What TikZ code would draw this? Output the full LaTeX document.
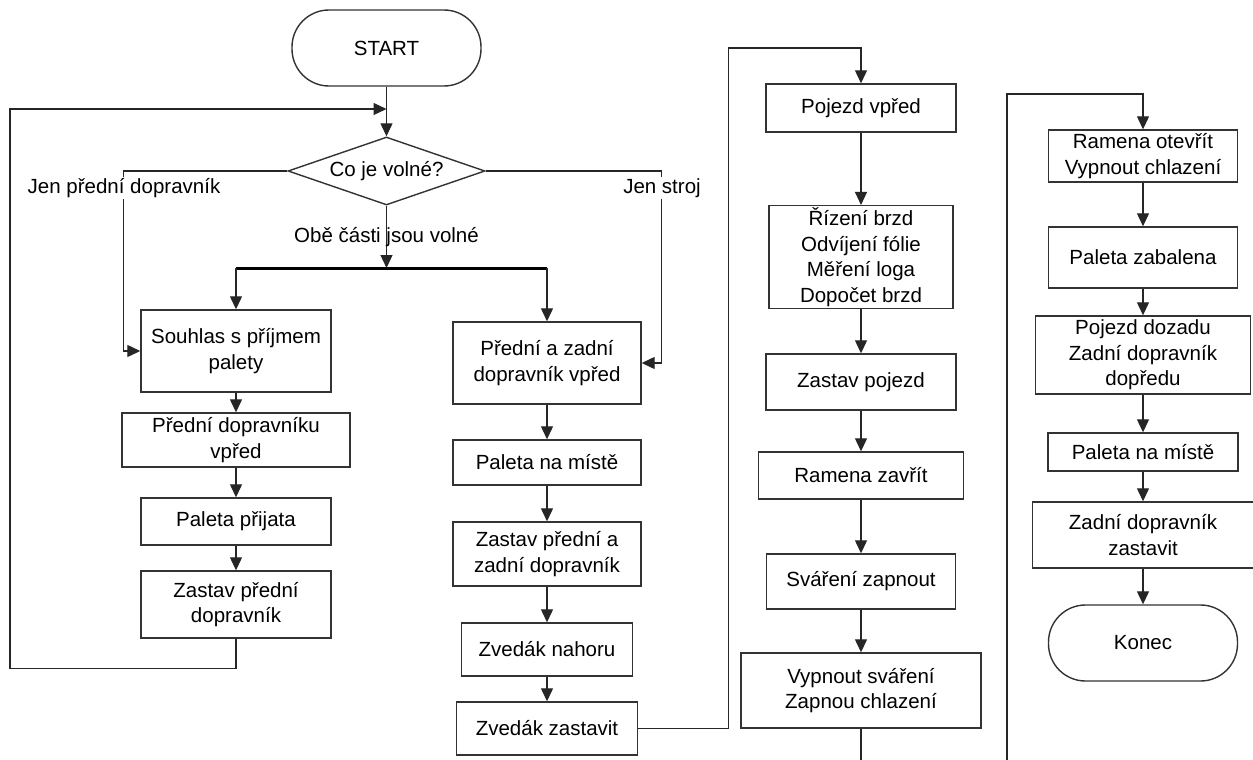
\documentclass[tikz,border=0pt]{standalone}
\usepackage{fontspec}
\setmainfont{Liberation Sans}
\usetikzlibrary{shapes.geometric,arrows.meta}
\begin{document}
\begin{tikzpicture}[x=1pt,y=-1pt,
  txt/.style={font=\fontsize{20.5pt}{25.5pt}\selectfont},
  box/.style={txt,draw=black!80,line width=1.4pt,fill=white,align=center,inner sep=2pt},
  term/.style={box,rounded corners=37pt,minimum width=189pt,minimum height=76pt},
  dec/.style={txt,draw=black!80,line width=1.4pt,fill=white,diamond,aspect=3,inner sep=0pt,minimum width=197pt,minimum height=68pt},
  lbl/.style={txt,fill=white,inner sep=1pt},
  conn/.style={line width=1.2pt,draw=black!85},
  arr/.style={conn,-{Triangle[length=13pt,width=12pt]}},
  bar/.style={line width=3pt,draw=black}]
\useasboundingbox[fill=white] (0,0) rectangle (1253,760);

% column 0 : start + decision
\node[term] (start) at (386.5,48) {START};
\node[dec] (dia) at (386.5,171) {Co je volné?};
\coordinate (loopin) at (386.5,109);
\coordinate (bar) at (386.5,268);
\coordinate (bl) at (236,268);
\coordinate (br) at (547,268);

% column 1
\node[box,minimum width=190pt,minimum height=82pt] (souhlas) at (236,351) {Souhlas s příjmem\\palety};
\node[box,minimum width=228pt,minimum height=54pt] (predniDv) at (236,440) {Přední dopravníku\\vpřed};
\node[box,minimum width=190pt,minimum height=47pt] (prijata) at (236,521.5) {Paleta přijata};
\node[box,minimum width=190pt,minimum height=67pt] (zastavPD) at (236,604.5) {Zastav přední\\dopravník};

% column 2
\node[box,minimum width=188pt,minimum height=82pt] (prednizadni) at (547,363) {Přední a zadní\\dopravník vpřed};
\node[box,minimum width=188pt,minimum height=45pt] (paleta1) at (547,462.5) {Paleta na místě};
\node[box,minimum width=188pt,minimum height=64pt] (zastavPZ) at (547,554) {Zastav přední a\\zadní dopravník};
\node[box,minimum width=171pt,minimum height=53pt] (zvedakN) at (547,649.5) {Zvedák nahoru};
\node[box,minimum width=181pt,minimum height=53pt] (zvedakZ) at (547,728.5) {Zvedák zastavit};

% column 3
\node[box,minimum width=190pt,minimum height=48pt] (pojezd) at (861,108) {Pojezd vpřed};
\node[box,minimum width=184pt,minimum height=100pt] (rizeni) at (861,257) {Řízení brzd\\Odvíjení fólie\\Měření loga\\Dopočet brzd};
\node[box,minimum width=190pt,minimum height=56pt] (zastavPoj) at (861,382) {Zastav pojezd};
\node[box,minimum width=205pt,minimum height=47pt] (ramenaZ) at (861,475.5) {Ramena zavřít};
\node[box,minimum width=189pt,minimum height=55pt] (svareni) at (861,581.5) {Sváření zapnout};
\node[box,minimum width=240pt,minimum height=75pt] (vypnout) at (861,690.5) {Vypnout sváření\\Zapnou chlazení};
\coordinate (end3) at (861,760);

% column 4
\coordinate (start4) at (1007,760);
\node[box,minimum width=189pt,minimum height=52pt] (ramenaO) at (1143,156) {Ramena otevřít\\Vypnout chlazení};
\node[box,minimum width=189pt,minimum height=61pt] (zabalena) at (1143,257.5) {Paleta zabalena};
\node[box,minimum width=215pt,minimum height=78pt] (dozadu) at (1143,355) {Pojezd dozadu\\Zadní dopravník\\dopředu};
\node[box,minimum width=190pt,minimum height=38pt] (paleta2) at (1143,452) {Paleta na místě};
\node[box,minimum width=221pt,minimum height=66pt] (zadniZ) at (1143,535) {Zadní dopravník\\zastavit};
\node[term] (konec) at (1143,643) {Konec};

% connectors: start and decision
\draw[arr] (start) -- (dia);
\draw[arr] (zastavPD.south) -- ++(0,30) -| (10,109) -- (loopin);
\draw[arr] (dia.west) -- ++(-164,0) |- (souhlas.west);
\draw[arr] (dia.east) -- ++(176,0) |- (prednizadni.east);
\node[lbl] (l1) at (124,188) {Jen přední dopravník};
\node[lbl] (l2) at (662,188) {Jen stroj};
\draw[arr] (dia.south) -- (bar);
\node[txt] (l3) at (386.5,237) {Obě části jsou volné};
\draw[bar] (bl) -- (br);
\draw[arr] (bl) -- (souhlas.north);
\draw[arr] (br) -- (prednizadni.north);

% column 1 chain
\draw[arr] (souhlas) -- (predniDv);
\draw[arr] (predniDv) -- (prijata);
\draw[arr] (prijata) -- (zastavPD);

% column 2 chain
\draw[arr] (prednizadni) -- (paleta1);
\draw[arr] (paleta1) -- (zastavPZ);
\draw[arr] (zastavPZ) -- (zvedakN);
\draw[arr] (zvedakN) -- (zvedakZ);
\draw[arr] (zvedakZ.east) -- ++(90,0) |- (861,48) -- (pojezd.north);

% column 3 chain
\draw[arr] (pojezd) -- (rizeni);
\draw[arr] (rizeni) -- (zastavPoj);
\draw[arr] (zastavPoj) -- (ramenaZ);
\draw[arr] (ramenaZ) -- (svareni);
\draw[arr] (svareni) -- (vypnout);
\draw[conn] (vypnout.south) -- (end3);

% column 4 chain
\draw[arr] (start4) |- (1143,94) -- (ramenaO.north);
\draw[arr] (ramenaO) -- (zabalena);
\draw[arr] (zabalena) -- (dozadu);
\draw[arr] (dozadu) -- (paleta2);
\draw[arr] (paleta2) -- (zadniZ);
\draw[arr] (zadniZ) -- (konec);
\end{tikzpicture}
\end{document}
